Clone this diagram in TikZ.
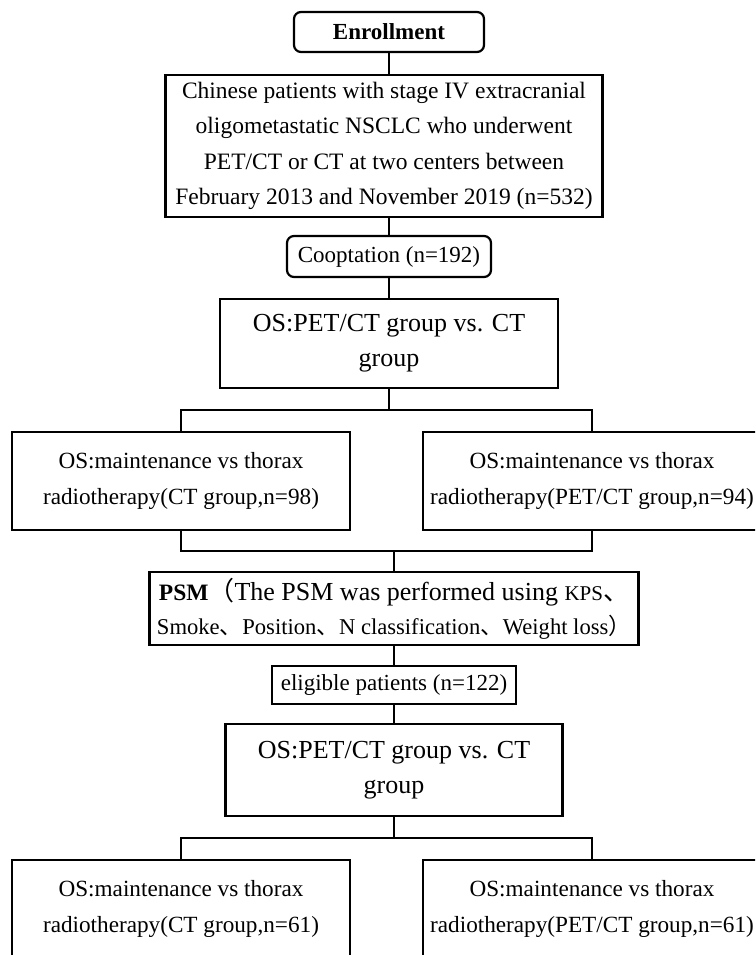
\documentclass[tikz,border=0pt]{standalone}
\usepackage{fontspec}
\setmainfont{Liberation Serif}
\newfontfamily\cjkfont{Noto Sans CJK SC}
\newcommand{\fsz}[2]{\fontsize{#1}{#2}\selectfont}

\begin{document}
\begin{tikzpicture}[
        x=1pt, y=-1pt,
        box/.style={rectangle, draw=black, line width=2.2pt, inner sep=0pt, align=center},
        rbox/.style={box, rounded corners=7pt},
        link/.style={line width=2.2pt}
    ]
    \useasboundingbox (0,0) rectangle (755,955);
    \clip (0,0) rectangle (755,955);
    % top part
    \node[rbox, minimum width=190pt, minimum height=40pt, font=\bfseries\fsz{23}{28}] (enroll) at (389,32) {Enrollment};
    \node[box, minimum width=437pt, minimum height=142pt, font=\fsz{23.5}{35.5}] (patients) at (384,146)
        {Chinese patients with stage IV extracranial\\
         oligometastatic NSCLC who underwent\\
         PET/CT or CT at two centers between\\
         February 2013 and November 2019 (n=532)};
    \node[rbox, minimum width=204pt, minimum height=41pt, font=\fsz{23}{28}] (coopt) at (389,256.5) {Cooptation (n=192)};
    \node[box, minimum width=338pt, minimum height=89pt, font=\fsz{26}{35}] (os1) at (389,343.5)
        {OS:PET/CT group vs. CT\\group};
    \node[box, minimum width=338pt, minimum height=98pt, font=\fsz{23.2}{36}] (ct1) at (181,481)
        {OS:maintenance vs thorax\\radiotherapy(CT group,n=98)};
    \node[box, minimum width=338pt, minimum height=98pt, font=\fsz{23.2}{36}] (pet1) at (592,481)
        {OS:maintenance vs thorax\\radiotherapy(PET/CT group,n=94)};
    % after matching
    \node[box, minimum width=489pt, minimum height=73pt, font=\fsz{26}{34}] (psm) at (394,608.5)
        {{\bfseries\fsz{23.5}{34}PSM}{\cjkfont （}The PSM was performed using {\fsz{21}{34}KPS}{\cjkfont 、}\\
         {\fsz{22.6}{34}Smoke{\cjkfont 、}Position{\cjkfont 、}N classification{\cjkfont 、}Weight loss{\cjkfont ）}}};
    \node[box, minimum width=244pt, minimum height=38pt, font=\fsz{23}{28}] (elig) at (394,685) {eligible patients (n=122)};
    \node[box, minimum width=337pt, minimum height=92pt, font=\fsz{26}{35}] (os2) at (394,770)
        {OS:PET/CT group vs. CT\\group};
    \node[box, minimum width=338pt, minimum height=98pt, font=\fsz{23.2}{36}] (ct2) at (181,909)
        {OS:maintenance vs thorax\\radiotherapy(CT group,n=61)};
    \node[box, minimum width=338pt, minimum height=98pt, font=\fsz{23.2}{36}] (pet2) at (592,909)
        {OS:maintenance vs thorax\\radiotherapy(PET/CT group,n=61)};

    \coordinate (split1) at (389,410);
    \coordinate (join1) at (394,551);
    \coordinate (split2) at (394,838);

    \draw[link] (enroll.south) -- (enroll.south |- patients.north);
    \draw[link] (enroll.south |- patients.south) -- (coopt.north);
    \draw[link] (coopt.south) -- (os1.north);
    \draw[link] (os1.south) -- (split1);
    \draw[link] (ct1.north) |- (split1) -| (pet1.north);
    \draw[link] (ct1.south) |- (join1) -| (pet1.south);
    \draw[link] (join1) -- (psm.north);
    \draw[link] (psm.south) -- (elig.north);
    \draw[link] (elig.south) -- (os2.north);
    \draw[link] (os2.south) -- (split2);
    \draw[link] (ct2.north) |- (split2) -| (pet2.north);
\end{tikzpicture}
\end{document}
